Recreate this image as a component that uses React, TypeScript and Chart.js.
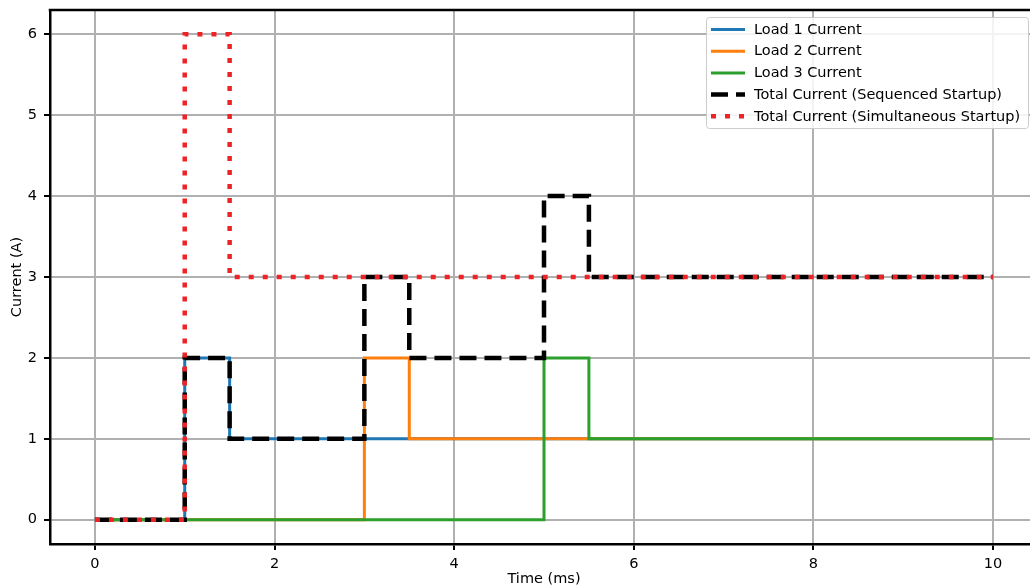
import React, { useEffect, useRef } from "react";
import { Chart, registerables } from "chart.js";

Chart.register(...registerables);

const load1Times = [0, 1, 1.5, 10];
const load1Values = [0, 2, 1, 1];
const load2Times = [0, 3, 3.5, 10];
const load2Values = [0, 2, 1, 1];
const load3Times = [0, 5, 5.5, 10];
const load3Values = [0, 2, 1, 1];
const seqTimes = [0, 1, 1.5, 3, 3.5, 5, 5.5, 10];
const seqValues = [0, 2, 1, 3, 2, 4, 3, 3];
const simTimes = [0, 1, 1.5, 10];
const simValues = [0, 6, 3, 3];
const xTicks = [0, 2, 4, 6, 8, 10];
const yTicks = [0, 1, 2, 3, 4, 5, 6];
const labels = [
  "Load 1 Current",
  "Load 2 Current",
  "Load 3 Current",
  "Total Current (Sequenced Startup)",
  "Total Current (Simultaneous Startup)",
];

const FONT = "'DejaVu Sans', sans-serif";
const FS = 14.5;

const pts = (t: number[], v: number[]) => t.map((x, i) => ({ x, y: v[i] }));

const framePlugin = {
  id: "frame",
  afterDraw(chart: any) {
    const ctx = chart.ctx as CanvasRenderingContext2D;
    const a = chart.chartArea;
    ctx.save();
    ctx.strokeStyle = "#000";
    ctx.lineWidth = 2.5;
    ctx.beginPath();
    ctx.moveTo(a.left - 1.25, a.top);
    ctx.lineTo(a.right, a.top);
    ctx.moveTo(a.right, a.top);
    ctx.lineTo(a.right, a.bottom);
    ctx.stroke();
    ctx.restore();
  },
};

const legendPlugin = {
  id: "customLegend",
  afterDraw(chart: any) {
    const ctx = chart.ctx as CanvasRenderingContext2D;
    const x0 = 706, y0 = 17, w = 322, h = 111;
    ctx.save();
    ctx.fillStyle = "rgba(255,255,255,0.85)";
    ctx.strokeStyle = "#cccccc";
    ctx.lineWidth = 1;
    ctx.beginPath();
    (ctx as any).roundRect ? (ctx as any).roundRect(x0 + 0.5, y0 + 0.5, w, h, 3) : ctx.rect(x0 + 0.5, y0 + 0.5, w, h);
    ctx.fill();
    ctx.stroke();
    chart.data.datasets.forEach((ds: any, i: number) => {
      const y = 29.5 + i * 21.7;
      ctx.beginPath();
      ctx.strokeStyle = ds.borderColor;
      ctx.lineWidth = ds.borderWidth;
      ctx.setLineDash(ds.borderDash || []);
      ctx.lineCap = "butt";
      ctx.moveTo(711, y);
      ctx.lineTo(745, y);
      ctx.stroke();
      ctx.setLineDash([]);
      ctx.fillStyle = "#000";
      ctx.font = `${FS}px ${FONT}`;
      ctx.textBaseline = "middle";
      ctx.textAlign = "left";
      ctx.fillText(ds.label, 754, y + 0.5);
    });
    ctx.restore();
  },
};

export default function App() {
  const ref = useRef<HTMLCanvasElement | null>(null);
  useEffect(() => {
    if (!ref.current) return;
    const mk = (i: number, t: number[], v: number[], color: string, width: number, dash?: number[]) => ({
      label: labels[i],
      data: pts(t, v),
      borderColor: color,
      backgroundColor: color,
      borderWidth: width,
      borderDash: dash,
      stepped: "before" as const,
      pointRadius: 0,
      fill: false,
      borderCapStyle: "butt" as const,
      order: 4 - i,
    });
    const chart = new Chart(ref.current, {
      type: "line",
      data: {
        datasets: [
          mk(0, load1Times, load1Values, "#1f77b4", 3),
          mk(1, load2Times, load2Values, "#ff7f0e", 3),
          mk(2, load3Times, load3Values, "#2ca02c", 3),
          mk(3, seqTimes, seqValues, "#000000", 4.5, [17, 8]),
          mk(4, simTimes, simValues, "#ee2326", 4.5, [5, 9]),
        ],
      },
      options: {
        responsive: false,
        animation: false,
        layout: { padding: { left: 0, right: 0, top: 10, bottom: 0 } },
        plugins: { legend: { display: false }, tooltip: { enabled: false } },
        scales: {
          x: {
            type: "linear",
            min: -0.5,
            max: 10.5,
            afterBuildTicks: (axis: any) => {
              axis.ticks = xTicks.map((v) => ({ value: v }));
            },
            afterFit: (axis: any) => {
              axis.height = 44;
              axis.paddingLeft = 0;
              axis.paddingRight = 0;
            },
            ticks: { color: "#000", font: { family: FONT, size: FS }, padding: 6, maxRotation: 0 },
            grid: { color: "#b0b0b0", lineWidth: 2, tickColor: "#000", tickLength: 6, tickWidth: 2 },
            border: { color: "#000", width: 2.5 },
            title: { display: true, text: "Time (ms)", color: "#000", font: { family: FONT, size: FS }, padding: { top: 0, bottom: 0 } },
          },
          y: {
            type: "linear",
            min: -0.3,
            max: 6.3,
            afterBuildTicks: (axis: any) => {
              axis.ticks = yTicks.map((v) => ({ value: v }));
            },
            afterFit: (axis: any) => {
              axis.width = 50;
              axis.paddingTop = 0;
              axis.paddingBottom = 0;
            },
            ticks: { color: "#000", font: { family: FONT, size: FS }, padding: 7 },
            grid: { color: "#b0b0b0", lineWidth: 2, tickColor: "#000", tickLength: 6, tickWidth: 2 },
            border: { color: "#000", width: 2.5 },
            title: { display: true, text: "Current (A)", color: "#000", font: { family: FONT, size: FS }, padding: { top: 9, bottom: 0 } },
          },
        },
      },
      plugins: [framePlugin, legendPlugin],
    });
    return () => chart.destroy();
  }, []);
  return (
    <div style={{ position: "fixed", left: 0, top: 0, width: 1030, height: 588, overflow: "hidden", background: "#fff" }}>
      <canvas ref={ref} width={1038} height={588} style={{ display: "block", width: 1038, height: 588 }} />
    </div>
  );
}
